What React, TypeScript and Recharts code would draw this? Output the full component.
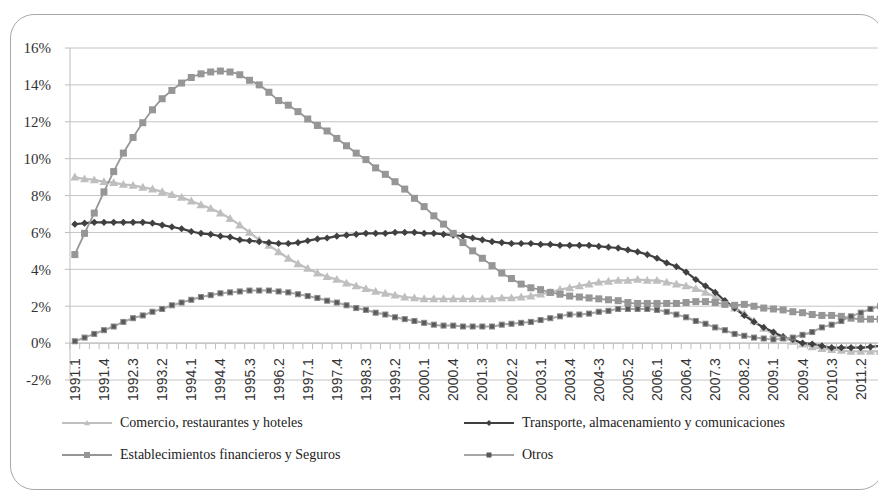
import React from 'react'
import { CartesianGrid, Line, LineChart, ReferenceLine, XAxis, YAxis } from 'recharts'

// quarterly series, 1991.1 .. 2011.4 (values in %)
const years = [
  1991, 1992, 1993, 1994, 1995, 1996, 1997, 1998, 1999, 2000, 2001,
  2002, 2003, 2004, 2005, 2006, 2007, 2008, 2009, 2010, 2011,
]
const categories = years.flatMap((y) => [1, 2, 3, 4].map((q) => `${y}.${q}`))

const tickLabels = [
  '1991.1', '1991.4', '1992.3', '1993.2', '1994.1', '1994.4', '1995.3',
  '1996.2', '1997.1', '1997.4', '1998.3', '1999.2', '2000.1', '2000.4',
  '2001.3', '2002.2', '2003.1', '2003.4', '2004-3', '2005.2', '2006.1',
  '2006.4', '2007.3', '2008.2', '2009.1', '2009.4', '2010.3', '2011.2',
]

const comercio = [
  9.0, 8.9, 8.85, 8.75, 8.7, 8.6, 8.55, 8.45, 8.35, 8.2,
  8.05, 7.9, 7.7, 7.5, 7.3, 7.05, 6.75, 6.4, 6.0, 5.6,
  5.3, 4.95, 4.6, 4.3, 4.05, 3.8, 3.6, 3.45, 3.25, 3.1,
  2.95, 2.8, 2.7, 2.6, 2.5, 2.45, 2.4, 2.4, 2.4, 2.4,
  2.4, 2.4, 2.4, 2.4, 2.45, 2.45, 2.5, 2.55, 2.65, 2.75,
  2.9, 3.0, 3.1, 3.2, 3.3, 3.35, 3.4, 3.4, 3.45, 3.4,
  3.4, 3.3, 3.2, 3.1, 2.95, 2.75, 2.5, 2.2, 1.9, 1.6,
  1.2, 0.8, 0.5, 0.3, 0.1, -0.05, -0.2, -0.3, -0.35, -0.4,
  -0.45, -0.45, -0.45, -0.45,
]

const transporte = [
  6.45, 6.5, 6.55, 6.55, 6.55, 6.55, 6.55, 6.55, 6.5, 6.4,
  6.3, 6.2, 6.05, 5.95, 5.9, 5.8, 5.75, 5.6, 5.55, 5.5,
  5.45, 5.4, 5.4, 5.45, 5.55, 5.65, 5.7, 5.8, 5.85, 5.9,
  5.95, 5.95, 5.95, 6.0, 6.0, 6.0, 5.95, 5.95, 5.9, 5.85,
  5.8, 5.7, 5.6, 5.5, 5.45, 5.4, 5.4, 5.4, 5.35, 5.35,
  5.3, 5.3, 5.3, 5.3, 5.25, 5.2, 5.15, 5.05, 4.95, 4.8,
  4.6, 4.35, 4.15, 3.85, 3.45, 3.1, 2.75, 2.3, 1.9, 1.5,
  1.15, 0.85, 0.6, 0.35, 0.2, 0.0, -0.05, -0.15, -0.25, -0.25,
  -0.25, -0.25, -0.2, -0.15,
]

const financieros = [
  4.8, 5.95, 7.05, 8.2, 9.3, 10.3, 11.15, 11.95, 12.65, 13.25,
  13.7, 14.1, 14.4, 14.6, 14.7, 14.75, 14.7, 14.55, 14.25, 14.0,
  13.6, 13.15, 12.9, 12.55, 12.15, 11.8, 11.5, 11.1, 10.7, 10.3,
  9.95, 9.5, 9.15, 8.75, 8.35, 7.85, 7.4, 6.9, 6.45, 5.95,
  5.45, 5.0, 4.6, 4.2, 3.8, 3.5, 3.2, 3.0, 2.9, 2.75,
  2.65, 2.55, 2.5, 2.45, 2.4, 2.35, 2.3, 2.2, 2.15, 2.15,
  2.15, 2.15, 2.15, 2.2, 2.25, 2.25, 2.2, 2.1, 2.05, 2.1,
  2.0, 1.9, 1.85, 1.8, 1.7, 1.65, 1.55, 1.5, 1.5, 1.45,
  1.35, 1.3, 1.3, 1.3,
]

const otros = [
  0.1, 0.3, 0.5, 0.7, 0.9, 1.15, 1.35, 1.5, 1.7, 1.85,
  2.05, 2.2, 2.35, 2.5, 2.6, 2.7, 2.75, 2.8, 2.85, 2.85,
  2.85, 2.8, 2.75, 2.65, 2.55, 2.45, 2.3, 2.2, 2.05, 1.9,
  1.8, 1.65, 1.55, 1.4, 1.3, 1.2, 1.1, 1.0, 0.95, 0.95,
  0.9, 0.9, 0.9, 0.9, 1.0, 1.05, 1.1, 1.15, 1.25, 1.35,
  1.45, 1.55, 1.55, 1.6, 1.7, 1.75, 1.85, 1.85, 1.85, 1.85,
  1.8, 1.7, 1.55, 1.4, 1.2, 1.05, 0.85, 0.7, 0.5, 0.4,
  0.3, 0.25, 0.2, 0.25, 0.3, 0.45, 0.6, 0.85, 1.0, 1.2,
  1.45, 1.65, 1.85, 2.0,
]

const yTicks = [-2, 0, 2, 4, 6, 8, 10, 12, 14, 16]

const data = categories.map((name, i) => ({
  name,
  comercio: comercio[i],
  transporte: transporte[i],
  financieros: financieros[i],
  otros: otros[i],
}))

const CHART_W = 900
const CHART_H = 491
const MARGIN = { top: 48, right: 15, left: 10, bottom: 51 }
const Y_AXIS_W = 60
const X_AXIS_H = 60
const PLOT_W = CHART_W - MARGIN.left - MARGIN.right - Y_AXIS_W
const PLOT_H = CHART_H - MARGIN.top - MARGIN.bottom - X_AXIS_H
const BAND = PLOT_W / categories.length
const Y_MIN = -2
const Y_MAX = 16
const ZERO_Y = MARGIN.top + (PLOT_H * Y_MAX) / (Y_MAX - Y_MIN)

const C_COMERCIO = '#BFBFBF'
const C_TRANSPORTE = '#404040'
const C_FINANCIEROS = '#969696'
const C_OTROS = '#A6A6A6'
const C_OTROS_MARK = '#595959'
const AXIS = '#BDBDBD'

const Triangle = ({ cx, cy, size = 4.5, color = C_COMERCIO }: any) => (
  <path
    d={`M${cx},${cy - size} L${cx + size},${cy + size * 0.75} L${cx - size},${cy + size * 0.75} Z`}
    fill={color}
  />
)
const Diamond = ({ cx, cy, size = 3.6, color = C_TRANSPORTE }: any) => (
  <path
    d={`M${cx},${cy - size} L${cx + size},${cy} L${cx},${cy + size} L${cx - size},${cy} Z`}
    fill={color}
  />
)
const Square = ({ cx, cy, size = 3.5, color = C_FINANCIEROS, stroke }: any) => (
  <rect x={cx - size} y={cy - size} width={size * 2} height={size * 2} fill={color} stroke={stroke} strokeWidth={stroke ? 1 : 0} />
)

const dotComercio = (p: any) => <Triangle key={`c${p.index}`} cx={p.cx} cy={p.cy} />
const dotTransporte = (p: any) => <Diamond key={`t${p.index}`} cx={p.cx} cy={p.cy} />
const dotFinancieros = (p: any) => <Square key={`f${p.index}`} cx={p.cx} cy={p.cy} />
const dotOtros = (p: any) => (
  <Square key={`o${p.index}`} cx={p.cx} cy={p.cy} size={2.5} color={C_OTROS_MARK} stroke="#8a8a8a" />
)

// excel-like category axis: ticks between categories, label every 3rd, axis sitting on 0%
const CategoryTick = (props: any) => {
  const { x, index } = props
  const left = x - BAND / 2
  const label = index % 3 === 0 ? tickLabels[index / 3] : null
  return (
    <g>
      <line x1={left} x2={left} y1={ZERO_Y} y2={ZERO_Y + 6} stroke={AXIS} />
      {label && (
        <text
          transform={`translate(${x},${ZERO_Y + 15}) rotate(-90)`}
          textAnchor="end"
          dy="0.36em"
          fontSize={14}
          fontFamily="'Liberation Sans', Arial, sans-serif"
          fill="#333"
        >
          {label}
        </text>
      )}
    </g>
  )
}

const legendItems = [
  { label: 'Comercio, restaurantes y hoteles', color: C_COMERCIO, mark: 'tri', left: 62, top: 423 },
  { label: 'Transporte, almacenamiento y comunicaciones', color: C_TRANSPORTE, mark: 'dia', left: 464, top: 423 },
  { label: 'Establecimientos financieros y Seguros', color: C_FINANCIEROS, mark: 'sq', left: 62, top: 455 },
  { label: 'Otros', color: C_OTROS, mark: 'sq2', left: 464, top: 455 },
]

const LegendMark = ({ color, mark }: any) => (
  <svg width={52} height={12} style={{ display: 'block' }}>
    <line x1={0} x2={50} y1={6} y2={6} stroke={color} strokeWidth={2.2} />
    {mark === 'tri' && <Triangle cx={25} cy={6} size={3} />}
    {mark === 'dia' && <Diamond cx={25} cy={6} size={3} />}
    {mark === 'sq' && <Square cx={25} cy={6} size={3} />}
    {mark === 'sq2' && <Square cx={25} cy={6} size={2.5} color={C_OTROS_MARK} />}
  </svg>
)

const App = () => {
  return (
    <div
      style={{
        position: 'absolute',
        left: 0,
        top: 0,
        width: 878,
        height: 491,
        overflow: 'hidden',
        background: '#fff',
      }}
    >
      <div
        style={{
          position: 'absolute',
          left: 10,
          top: 14,
          width: 872,
          height: 474,
          border: '1px solid #A8A8A8',
          borderRadius: 24,
        }}
      />
      <div style={{ position: 'absolute', left: 0, top: 0 }}>
        <LineChart width={CHART_W} height={CHART_H} data={data} margin={MARGIN}>
          <CartesianGrid vertical={false} stroke="#C4C4C4" />
          <XAxis
            dataKey="name"
            interval={0}
            height={X_AXIS_H}
            axisLine={false}
            tickLine={false}
            tick={<CategoryTick />}
            padding={{ left: BAND / 2, right: BAND / 2 }}
          />
          <YAxis
            width={Y_AXIS_W}
            domain={[Y_MIN, Y_MAX]}
            ticks={yTicks}
            allowDataOverflow
            tickFormatter={(v) => `${v}%`}
            axisLine={{ stroke: AXIS }}
            tickLine={{ stroke: AXIS }}
            tickSize={5}
            tickMargin={14}
            tick={{ fill: '#333', fontSize: 15, fontFamily: "'Liberation Serif', serif" }}
          />
          <ReferenceLine y={0} stroke={AXIS} />
          <Line
            type="monotone"
            dataKey="comercio"
            stroke={C_COMERCIO}
            strokeWidth={2.2}
            dot={dotComercio}
            isAnimationActive={false}
          />
          <Line
            type="monotone"
            dataKey="transporte"
            stroke={C_TRANSPORTE}
            strokeWidth={2.2}
            dot={dotTransporte}
            isAnimationActive={false}
          />
          <Line
            type="monotone"
            dataKey="financieros"
            stroke={C_FINANCIEROS}
            strokeWidth={1.8}
            dot={dotFinancieros}
            isAnimationActive={false}
          />
          <Line
            type="monotone"
            dataKey="otros"
            stroke={C_OTROS}
            strokeWidth={2}
            dot={dotOtros}
            isAnimationActive={false}
          />
        </LineChart>
      </div>
      {legendItems.map((it) => (
        <div
          key={it.label}
          style={{
            position: 'absolute',
            left: it.left,
            top: it.top - 9,
            height: 18,
            display: 'flex',
            alignItems: 'center',
            gap: 6,
            fontFamily: "'Liberation Serif', serif",
            fontSize: 14,
            color: '#222',
            whiteSpace: 'nowrap',
          }}
        >
          <LegendMark color={it.color} mark={it.mark} />
          <span>{it.label}</span>
        </div>
      ))}
    </div>
  )
}

export default App
